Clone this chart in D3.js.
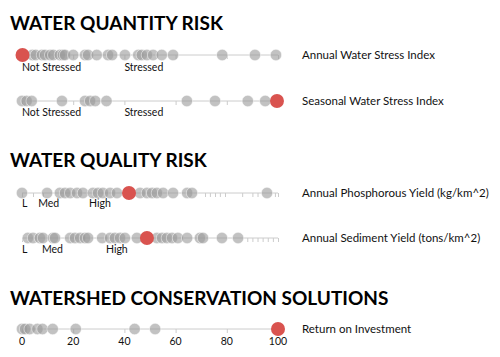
<!DOCTYPE html>
<html><head><meta charset="utf-8">
<script src="https://cdn.jsdelivr.net/npm/d3@7"></script>
<style>html,body{margin:0;padding:0;background:#fff;}svg{display:block;}</style>
</head><body>
<script>
// ---- data ----
const sectionTitles = ["WATER QUANTITY RISK", "WATER QUALITY RISK", "WATERSHED CONSERVATION SOLUTIONS"];
const metricNames = ["Annual Water Stress Index", "Seasonal Water Stress Index",
  "Annual Phosphorous Yield (kg/km^2)", "Annual Sediment Yield (tons/km^2)", "Return on Investment"];

const annualStress = [0.2, 0.27, 0.39, 0.45, 0.55, 0.61, 0.74, 0.8, 0.84, 1.0, 1.23, 1.29, 1.46, 1.68, 1.76, 2.01, 2.27, 2.34, 2.44, 2.56, 2.73, 2.95, 3.91, 4.55, 4.96];
const annualStressSelected = 0.01;
const seasonalStress = [0, 0.09, 0.19, 0.78, 1.23, 1.33, 1.43, 1.65, 3.22, 3.77, 4.41, 4.75];
const seasonalStressSelected = 4.98;
const stressTicks = [0, 1, 2, 3, 4, 5];
const stressLabels = [{v: 0, t: "Not Stressed"}, {v: 2, t: "Stressed"}];

const phosphorus = [0, 9.8, 14.8, 16.8, 18.8, 21.5, 23.8, 27.7, 29.7, 31.6, 34.4, 37.1, 46.1, 48.8, 50.8, 52.7, 55.1, 59, 64.5, 66.4, 95.7];
const phosphorusSelected = 41.8;
const phosphorusTicks = [0, 4.3, 8.2, 71.5, 73.4, 75.4, 77.3, 79.3, 86, 90, 92, 98.8, 100];
const phosphorusLabels = [{v: 0, t: "L"}, {v: 6.3, t: "Med"}, {v: 26.2, t: "High"}];

const sediment = [2.3, 4.3, 7, 8.2, 12.1, 12.9, 18.8, 20.7, 22.7, 24.6, 25.8, 31.3, 34.4, 36.3, 38.3, 40.2, 44.9, 52.7, 54.7, 56.6, 58.6, 60.9, 64.5, 69.5, 70.7, 78.1, 84.4];
const sedimentSelected = 48.8;
const sedimentTicks = [0, 88, 90, 92, 94, 96, 98, 100];
const sedimentLabels = [{v: 0, t: "L"}, {v: 7.8, t: "Med"}, {v: 32.8, t: "High"}];

const roi = [0, 1.2, 3, 6, 8, 12, 21, 44, 52];
const roiSelected = 100;
const roiTicks = [0, 20, 40, 60, 80, 100];
const roiLabels = roiTicks.map(v => ({v: v, t: String(v)}));

// ---- layout ----
const W = 500, H = 357;
const svg = d3.select("body").append("svg").attr("width", W).attr("height", H);
const FONT = "Lato, 'Open Sans', sans-serif";

const titleY = [30, 167, 305];
svg.selectAll("text.title").data(sectionTitles).join("text")
  .attr("class", "title")
  .attr("x", 10).attr("y", (d, i) => titleY[i])
  .attr("font-family", FONT).attr("font-weight", 700).attr("font-size", 19)
  .attr("fill", "#000").text(d => d);

const rows = [
  {y: 55, domain: [0, 5], data: annualStress, sel: annualStressSelected, ticks: stressTicks, labels: stressLabels, anchor: "start", lblDy: 16},
  {y: 101, domain: [0, 5], data: seasonalStress, sel: seasonalStressSelected, ticks: stressTicks, labels: stressLabels, anchor: "start", lblDy: 15},
  {y: 193, domain: [0, 100], data: phosphorus, sel: phosphorusSelected, ticks: phosphorusTicks, labels: phosphorusLabels, anchor: "start", lblDy: 14},
  {y: 238, domain: [0, 100], data: sediment, sel: sedimentSelected, ticks: sedimentTicks, labels: sedimentLabels, anchor: "start", lblDy: 15},
  {y: 329, domain: [0, 100], data: roi, sel: roiSelected, ticks: roiTicks, labels: roiLabels, anchor: "middle", lblDy: 16}
];

rows.forEach((r, i) => {
  const x = d3.scaleLinear().domain(r.domain).range([22, 278]);
  const g = svg.append("g").attr("transform", `translate(0,${r.y})`);
  const axis = d3.axisBottom(x).tickValues(r.ticks).tickSize(4).tickFormat("");
  const ag = g.append("g").call(axis);
  ag.select(".domain").attr("stroke", "#ccc").attr("d", `M${x.range()[0]},0H${x.range()[1]}`);
  ag.selectAll(".tick line").attr("stroke", "#ccc");

  g.selectAll("text.lbl").data(r.labels).join("text")
    .attr("class", "lbl")
    .attr("x", d => x(d.v)).attr("y", r.lblDy)
    .attr("text-anchor", r.anchor)
    .attr("font-family", FONT).attr("font-size", 10.5).attr("fill", "#111")
    .text(d => d.t);

  g.selectAll("circle.dot").data(r.data).join("circle")
    .attr("class", "dot")
    .attr("cx", d => x(d)).attr("cy", 0).attr("r", 5.7)
    .attr("fill", "#999").attr("fill-opacity", 0.6)
    .attr("stroke", "#fff").attr("stroke-opacity", 0.6).attr("stroke-width", 0.8);

  g.append("circle")
    .attr("cx", x(r.sel)).attr("cy", 0).attr("r", 7)
    .attr("fill", "#d9534f");

  svg.append("text")
    .attr("x", 302).attr("y", r.y).attr("dy", "0.35em")
    .attr("font-family", FONT).attr("font-size", 11.5).attr("fill", "#111")
    .text(metricNames[i]);
});
</script>
</body></html>
